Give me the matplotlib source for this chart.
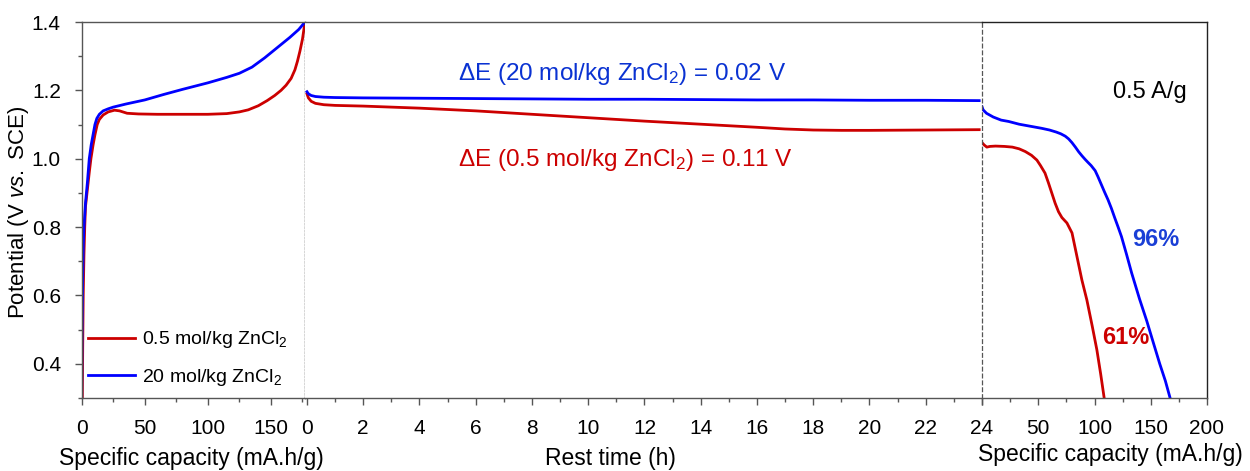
import matplotlib
matplotlib.use("Agg")
import matplotlib.pyplot as plt
import numpy as np

plt.rcParams["font.family"] = ["Liberation Sans", "DejaVu Sans"]
plt.rcParams["mathtext.fontset"] = "custom"
plt.rcParams["mathtext.rm"] = "Liberation Sans"
plt.rcParams["mathtext.it"] = "Liberation Sans:italic"
plt.rcParams["mathtext.bf"] = "Liberation Sans:bold"

RED = "#cc0000"
BLUE = "#0000ff"

# charge (specific capacity mA.h/g, potential V)
charge_cap_20 = [0, 0.3, 0.8, 1.3, 1.8, 3, 4.5, 6, 7.5, 9, 10.5, 12, 14, 17, 21, 25, 35, 50,
                 65, 80, 100, 115, 125, 135, 145, 155, 165, 172, 177]
charge_v_20 = [0.30, 0.50, 0.65, 0.75, 0.80, 0.87, 0.93, 1.00, 1.04, 1.07, 1.10, 1.118, 1.13,
               1.14, 1.146, 1.151, 1.16, 1.172, 1.188, 1.203, 1.222, 1.238, 1.25, 1.268,
               1.295, 1.325, 1.355, 1.378, 1.40]
charge_cap_05 = [0.5, 0.8, 1.2, 1.8, 2.4, 3, 4.5, 6, 7.3, 9, 10.5, 12.3, 14, 17, 21, 26, 30, 36,
                 45, 60, 80, 100, 115, 125, 132, 140, 147, 153, 158, 162, 166, 169, 171, 173,
                 175, 176, 177]
charge_v_05 = [0.30, 0.45, 0.60, 0.72, 0.80, 0.86, 0.91, 0.96, 1.00, 1.04, 1.07, 1.10, 1.115,
               1.128, 1.137, 1.142, 1.140, 1.133, 1.131, 1.130, 1.130, 1.130, 1.132, 1.137,
               1.143, 1.155, 1.17, 1.185, 1.20, 1.215, 1.235, 1.26, 1.285, 1.315, 1.35,
               1.375, 1.40]

# rest (time h, potential V)
rest_t_20 = [0, 0.05, 0.15, 0.3, 0.6, 1, 2, 4, 6, 8, 10, 12, 14, 16, 18, 20, 22, 23.9]
rest_v_20 = [1.196, 1.19, 1.185, 1.182, 1.18, 1.179, 1.178, 1.177, 1.176, 1.175, 1.174,
             1.174, 1.173, 1.172, 1.172, 1.171, 1.171, 1.170]
rest_t_05 = [0, 0.05, 0.15, 0.3, 0.6, 1, 2, 4, 6, 8, 10, 12, 14, 16, 17, 18, 19, 20, 22, 23.9]
rest_v_05 = [1.19, 1.178, 1.168, 1.162, 1.158, 1.156, 1.154, 1.148, 1.14, 1.13, 1.12, 1.11,
             1.101, 1.092, 1.087, 1.084, 1.083, 1.083, 1.084, 1.085]

# discharge (specific capacity mA.h/g, potential V)
dis_cap_20 = [0, 1, 4, 10, 17, 23.7, 33, 43, 53, 60, 66, 70, 74, 77, 80, 83, 86, 89, 91.7, 94,
              97, 100.6, 103, 106, 109, 112, 115, 118, 121, 124, 128.5, 133, 140, 146.5, 152,
              158, 163, 167.2]
dis_v_20 = [1.152, 1.143, 1.133, 1.122, 1.113, 1.109, 1.101, 1.095, 1.089, 1.084, 1.078, 1.073,
            1.066, 1.058, 1.047, 1.034, 1.02, 1.008, 0.998, 0.99, 0.98, 0.965, 0.948, 0.925,
            0.902, 0.88, 0.855, 0.827, 0.8, 0.772, 0.72, 0.666, 0.59, 0.525, 0.465, 0.40,
            0.35, 0.30]
dis_cap_05 = [0, 2, 4.3, 7, 12, 20, 27, 33, 38.5, 44, 48.8, 52, 56, 59, 62, 65, 68, 71, 75.5,
              80, 84.4, 88.8, 93.2, 98, 102.1, 105.5, 108.6]
dis_v_05 = [1.047, 1.04, 1.034, 1.036, 1.037, 1.036, 1.034, 1.029, 1.021, 1.01, 0.996, 0.98,
            0.958, 0.93, 0.90, 0.87, 0.845, 0.828, 0.812, 0.783, 0.714, 0.645, 0.587, 0.51,
            0.441, 0.37, 0.30]

W, H = 1250, 471
fig = plt.figure(figsize=(W / 100, H / 100), dpi=100)
bot, top = 1 - 398 / H, 1 - 22 / H


def frac(x0, x1):
    return [x0 / W, bot, (x1 - x0) / W, top - bot]


ax1 = fig.add_axes(frac(81.7, 305))
ax2 = fig.add_axes(frac(305, 982))
ax3 = fig.add_axes(frac(982, 1207))

SP = "#555555"
lw = 2.0
for ax in (ax1, ax2, ax3):
    ax.set_ylim(0.3, 1.4)
    for s in ax.spines.values():
        s.set_color(SP)
        s.set_linewidth(1.0)
    ax.tick_params(axis="x", which="major", direction="out", length=5, width=1, color=SP,
                   labelsize=15, pad=10)
    ax.tick_params(axis="x", which="minor", direction="out", length=3, width=1, color=SP)

ax1.plot(charge_cap_05, charge_v_05, color=RED, lw=lw, label="0.5 mol/kg ZnCl$_2$")
ax1.plot(charge_cap_20, charge_v_20, color=BLUE, lw=lw, label="20 mol/kg ZnCl$_2$")
ax1.set_xlim(0, 177)
ax1.set_xticks([0, 50, 100, 150])
ax1.set_xticks([25, 75, 125, 175], minor=True)
ax1.set_yticks([0.4, 0.6, 0.8, 1.0, 1.2, 1.4])
ax1.set_yticks([0.3, 0.5, 0.7, 0.9, 1.1, 1.3], minor=True)
ax1.tick_params(axis="y", which="major", direction="out", length=5, width=1, color=SP,
                labelsize=15, pad=10)
ax1.tick_params(axis="y", which="minor", direction="out", length=3, width=1, color=SP)
ax1.spines["right"].set_linestyle((0, (1, 1.5)))
ax1.spines["right"].set_linewidth(1.0)
ax1.spines["right"].set_color("#333333")
ax1.legend(loc="lower left", bbox_to_anchor=(-0.05, -0.02), frameon=False, fontsize=14,
           handlelength=2.4, handletextpad=0.4, labelspacing=0.85)

ax2.plot(rest_t_05, rest_v_05, color=RED, lw=lw)
ax2.plot(rest_t_20, rest_v_20, color=BLUE, lw=lw)
ax2.set_xlim(-0.07, 24)
ax2.set_xticks(np.arange(0, 25, 2))
ax2.set_xticks(np.arange(1, 24, 2), minor=True)
ax2.set_yticks([])
ax2.spines["left"].set_visible(False)
ax2.spines["right"].set_visible(False)
ax2.text(0.468, 0.862, r"$\Delta$E (20 mol/kg ZnCl$_2$) = 0.02 V", transform=ax2.transAxes,
         color="#0a32d2", fontsize=17.5, ha="center", va="center")
ax2.text(0.474, 0.632, r"$\Delta$E (0.5 mol/kg ZnCl$_2$) = 0.11 V", transform=ax2.transAxes,
         color=RED, fontsize=17.5, ha="center", va="center")

ax3.plot(dis_cap_05, dis_v_05, color=RED, lw=lw)
ax3.plot(dis_cap_20, dis_v_20, color=BLUE, lw=lw)
ax3.set_xlim(0, 200)
ax3.set_xticks([0, 50, 100, 150, 200])
ax3.set_xticklabels(["", "50", "100", "150", "200"])
ax3.set_xticks([25, 75, 125, 175], minor=True)
ax3.set_yticks([])
ax3.spines["left"].set_linestyle((0, (3, 2.5)))
ax3.spines["left"].set_linewidth(0.9)
ax3.spines["right"].set_color("#222222")
ax3.spines["top"].set_color("#222222")
ax3.text(149, 1.195, "0.5 A/g", fontsize=17, ha="center", va="center", color="black")
ax3.text(154.5, 0.763, "96%", fontsize=17, fontweight="bold", ha="center", va="center",
         color="#1a3fd6")
ax3.text(128, 0.476, "61%", fontsize=17, fontweight="bold", ha="center", va="center",
         color=RED)

fig.text(19 / W, 1 - 212 / H, r"Potential (V $vs.$ SCE)", rotation=90, fontsize=16,
         ha="center", va="center")
fig.text(191 / W, 1 - 459 / H, "Specific capacity (mA.h/g)", fontsize=16.5, ha="center",
         va="center")
fig.text(610 / W, 1 - 458 / H, "Rest time (h)", fontsize=16.5, ha="center", va="center")
fig.text(1110 / W, 1 - 455 / H, "Specific capacity (mA.h/g)", fontsize=16.5, ha="center",
         va="center")

fig.savefig("out.png", dpi=100)
